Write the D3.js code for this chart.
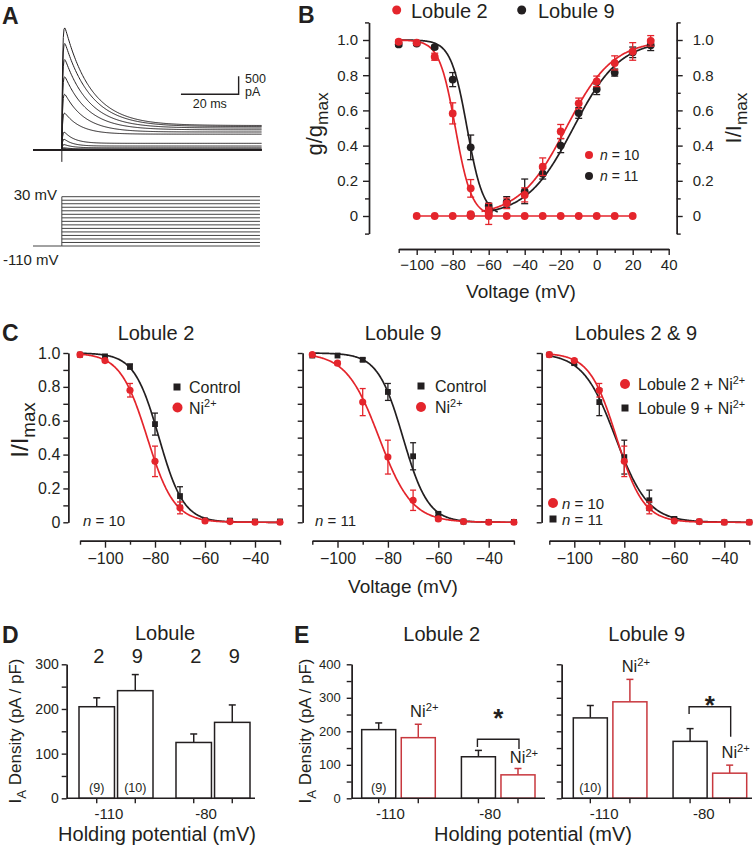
<!DOCTYPE html>
<html><head><meta charset="utf-8">
<script src="https://cdn.jsdelivr.net/npm/d3@7"></script>
<style>
body{margin:0;background:#fff;}
svg{display:block;}
</style></head><body>
<svg id="fig" width="753" height="853"></svg>
<script>
// ================= DATA =================
// Panel A : current traces (peak / steady state pA, decay tau ms) and voltage steps
const aLevels  = [30,20,10,0,-10,-20,-30,-40,-50,-60,-70,-80,-90,-100,-110];
const aPeak    = [3780,3290,2800,2270,1740,1160,600,370,185,75,30,10,0,0,0];
const aSteady  = [680,650,610,560,500,440,185,110,60,25,10,0,0,0,0];
const aTau     = [9,9,8.5,8,7,5.5,3.5,3,3,3,3,3,3,3,3];
const aTransient = -330;      // pA
const aScaleBar  = [20, 500]; // ms, pA

// Panel B : inactivation (left) and activation (right)
const bInactV    = [-110,-100,-90,-80,-70,-60];
const bInact2    = [0.99,0.985,0.905,0.583,0.157,0.012];
const bInact2Err = [0.01,0.01,0.02,0.06,0.05,0.06];
const bInact9    = [0.975,0.98,0.96,0.775,0.39,0.057];
const bInact9Err = [0.01,0.01,0.01,0.04,0.07,0.015];
const bActV      = [-70,-60,-50,-40,-30,-20,-10,0,10,20,30];
const bAct2      = [0.01,0.03,0.072,0.12,0.28,0.48,0.64,0.765,0.87,0.935,0.995];
const bAct2Err   = [0.01,0.02,0.03,0.04,0.05,0.04,0.03,0.03,0.04,0.05,0.03];
const bAct9      = [0.005,0.03,0.08,0.14,0.24,0.40,0.585,0.72,0.815,0.93,0.97];
const bAct9Err   = [0.01,0.01,0.03,0.07,0.03,0.04,0.03,0.03,0.02,0.03,0.03];
const bZeroV     = [-100,-90,-80,-70,-60,-50,-40,-30,-20,-10,0,10,20];
const bZero      = [0,0,0,0,0,0,0,0,0,0,0,0,0];
// Boltzmann fits [V1/2, k]
const bFitInact2 = [-78.5, 4.5];
const bFitInact9 = [-72, 4.5];
const bFitAct2   = [-17, 13];
const bFitAct9   = [-13, 13];

// Panel C : steady-state inactivation, control vs Ni2+
const cV         = [-110,-100,-90,-80,-70,-60,-50,-40,-30];
const c2Ctrl     = [0.99,0.98,0.92,0.58,0.155,0.012,0.01,0.005,0.005];
const c2CtrlErr  = [0.005,0.005,0.015,0.065,0.055,0.005,0.005,0,0];
const c2Ni       = [0.99,0.955,0.78,0.36,0.085,0.008,0.004,0.0,0.0];
const c2NiErr    = [0.005,0.01,0.04,0.09,0.035,0.005,0,0,0];
const c9Ctrl     = [0.985,0.985,0.96,0.77,0.39,0.05,0.004,0.002,0.002];
const c9CtrlErr  = [0.005,0.005,0.01,0.05,0.08,0.01,0,0,0];
const c9Ni       = [0.99,0.94,0.71,0.385,0.13,0.02,0.004,0.0,0.0];
const c9NiErr    = [0.005,0.01,0.08,0.10,0.06,0.01,0,0,0];
const c2CtrlFit  = [-78.4, 4.95];
const c2NiFit    = [-83.1, 5.4];
const c9CtrlFit  = [-74, 5];
const c9NiFit    = [-83.5, 6.5];

// Panel D : I_A density by lobule and holding potential
const dHolding = ["-110","-80"];
const dLobules = ["2","9"];
const dMean2 = [205,125], dErr2 = [20,19];
const dMean9 = [241,170], dErr9 = [36,39];
const dN     = ["(9)","(10)"];

// Panel E : control vs Ni2+
const eCond = ["Control","Ni"];
const e2Ctrl = [205,124], e2CtrlErr = [20,19];
const e2Ni   = [181,70],  e2NiErr   = [40,19];
const e9Ctrl = [240,170], e9CtrlErr = [37,38];
const e9Ni   = [288,75],  e9NiErr   = [67,24];

// ================= DRAWING =================
const FONT = "'Liberation Sans', Arial, Helvetica, sans-serif";
const RED = "#e4252c", BLK = "#231f20", BARRED = "#c8383e";
const svg = d3.select("#fig").attr("font-family", FONT);
svg.append("rect").attr("width",753).attr("height",853).attr("fill","#fff");

function rich(g, x, y, parts, size, anchor, opts={}) {
  const t = g.append("text").attr("x",x).attr("y",y).attr("font-size",size)
    .attr("text-anchor",anchor||"start").attr("fill",BLK);
  if (opts.bold) t.attr("font-weight","bold");
  if (opts.transform) t.attr("transform",opts.transform);
  let shift = 0;
  parts.forEach(p => {
    const s = typeof p === "string" ? p : p[0];
    const type = typeof p === "string" ? "" : p[1];
    const ts = t.append("tspan").text(s);
    let target = 0;
    if (type === "sub") { target = size*0.28; ts.attr("font-size", size*0.78); }
    else if (type === "sup") { target = -size*0.38; ts.attr("font-size", size*0.68); }
    else if (type === "ital") { ts.attr("font-style","italic"); }
    if (target - shift !== 0) ts.attr("dy", target - shift);
    shift = target;
  });
  return t;
}
function styleAxis(g, fs) {
  g.attr("font-family", FONT).attr("font-size", fs);
  g.selectAll("path,line").attr("stroke", BLK).attr("stroke-width", 1.4);
  g.selectAll("text").attr("fill", BLK);
  return g;
}
const boltzDown = (p) => v => 1/(1+Math.exp((v-p[0])/p[1]));
const boltzUp   = (p) => v => 1/(1+Math.exp((p[0]-v)/p[1]));

function drawPoints(g, x, y, V, vals, errs, color, shape, size, cap) {
  V.forEach((v,i) => {
    const e = errs ? errs[i] : 0;
    if (e > 0.008) {
      const cx = x(v), y1 = y(vals[i]-e), y2 = y(vals[i]+e);
      g.append("line").attr("x1",cx).attr("x2",cx).attr("y1",y1).attr("y2",y2).attr("stroke",color).attr("stroke-width",1.3);
      [y1,y2].forEach(yy => g.append("line").attr("x1",cx-cap).attr("x2",cx+cap).attr("y1",yy).attr("y2",yy).attr("stroke",color).attr("stroke-width",1.3));
    }
  });
  g.selectAll(null).data(V.map((v,i)=>[v,vals[i]])).join("path")
    .attr("transform", d => `translate(${x(d[0])},${y(d[1])})`)
    .attr("d", d3.symbol(shape, size)).attr("fill", color);
}
function drawCurve(g, x, y, f, v0, v1, color) {
  const pts = d3.range(v0, v1+0.001, 0.25).map(v => [v, f(v)]);
  g.append("path").attr("d", d3.line().x(d=>x(d[0])).y(d=>y(d[1]))(pts))
    .attr("fill","none").attr("stroke",color).attr("stroke-width",1.7);
}

// ---------- Panel A ----------
{
  const g = svg.append("g");
  rich(g, 2, 24, ["A"], 23, "start", {bold:true});
  const tA = d3.scaleLinear().domain([-10, 69.3]).range([33, 261.7]);
  const iA = d3.scaleLinear().domain([0, 4000]).range([150, 6]);
  const ts = d3.range(-10, 69.3, 0.25);
  aPeak.forEach((pk,i) => {
    const ss = aSteady[i], tau = aTau[i];
    const pts = ts.map(t => t < 0 ? [t,0] : [t, (ss + (pk-ss)*Math.exp(-t/tau)) * (1-Math.exp(-t/0.25))]);
    g.append("path").attr("d", d3.line().x(d=>tA(d[0])).y(d=>iA(d[1]))(pts))
      .attr("fill","none").attr("stroke",BLK).attr("stroke-width", pk < 50 ? 1.6 : 1);
  });
  g.append("line").attr("x1",tA(0)).attr("x2",tA(0)).attr("y1",iA(0)).attr("y2",iA(aTransient)).attr("stroke",BLK).attr("stroke-width",1);
  // scale bar
  const sbT0 = 41.3, sbI0 = 1547;
  g.append("path").attr("d", `M${tA(sbT0)},${iA(sbI0)}H${tA(sbT0+aScaleBar[0])}V${iA(sbI0+aScaleBar[1])}`)
    .attr("fill","none").attr("stroke",BLK).attr("stroke-width",1.4);
  rich(g, tA(sbT0+aScaleBar[0])/2 + tA(sbT0)/2, 108, ["20 ms"], 12.5, "middle");
  rich(g, 245, 83, ["500"], 12.5, "start");
  rich(g, 245, 96, ["pA"], 12.5, "start");
  // voltage protocol
  const vA = d3.scaleLinear().domain([-110, 30]).range([246, 196.7]);
  g.append("line").attr("x1",tA(-10)).attr("x2",tA(0)).attr("y1",vA(-110)).attr("y2",vA(-110)).attr("stroke","#444").attr("stroke-width",1);
  g.append("line").attr("x1",tA(0)).attr("x2",tA(0)).attr("y1",vA(-110)).attr("y2",vA(30)).attr("stroke","#444").attr("stroke-width",1);
  aLevels.forEach(v => g.append("line").attr("x1",tA(0)).attr("x2",tA(68.7)).attr("y1",vA(v)).attr("y2",vA(v)).attr("stroke","#444").attr("stroke-width",1));
  rich(g, 57, 200, ["30 mV"], 15, "end");
  rich(g, 3, 265, ["-110 mV"], 15, "start");
}

// ---------- Panel B ----------
{
  const g = svg.append("g");
  rich(g, 298, 23, ["B"], 23, "start", {bold:true});
  const x = d3.scaleLinear().domain([-110, 40]).range([398.7, 668.7]);
  const y = d3.scaleLinear().domain([-0.1, 1.1]).range([233.6, 22.4]);
  const fmt = d => d === 0 ? "0" : d.toFixed(1);
  const maj = [0,0.2,0.4,0.6,0.8,1.0], mnr = [-0.1,0.1,0.3,0.5,0.7,0.9,1.1];
  styleAxis(g.append("g").attr("transform","translate(369,0)").call(d3.axisLeft(y).tickValues(maj).tickSize(6).tickPadding(5).tickSizeOuter(0).tickFormat(fmt)), 15);
  styleAxis(g.append("g").attr("transform","translate(369,0)").call(d3.axisLeft(y).tickValues(mnr).tickSize(4).tickSizeOuter(0).tickFormat("")), 15);
  styleAxis(g.append("g").attr("transform","translate(676.7,0)").call(d3.axisRight(y).tickValues(maj).tickSize(6).tickPadding(10).tickSizeOuter(0).tickFormat(fmt)), 15);
  styleAxis(g.append("g").attr("transform","translate(676.7,0)").call(d3.axisRight(y).tickValues(mnr).tickSize(4).tickSizeOuter(0).tickFormat("")), 15);
  styleAxis(g.append("g").attr("transform","translate(0,249)").call(d3.axisBottom(x).tickValues([-100,-80,-60,-40,-20,0,20,40]).tickSize(6).tickPadding(4).tickSizeOuter(0)), 15);
  styleAxis(g.append("g").attr("transform","translate(0,249)").call(d3.axisBottom(x).tickValues([-110,-90,-70,-50,-30,-10,10,30]).tickSize(4).tickSizeOuter(0).tickFormat("")), 15);
  rich(g, 521, 298, ["Voltage (mV)"], 19, "middle");
  rich(g, 0, 0, ["g/g", ["max","sub"]], 22, "middle", {transform:"translate(322,124) rotate(-90)"});
  rich(g, 0, 0, ["I/I", ["max","sub"]], 22, "middle", {transform:"translate(741,118) rotate(-90)"});
  // curves
  drawCurve(g, x, y, boltzDown(bFitInact9), -110, -55, BLK);
  drawCurve(g, x, y, boltzUp(bFitAct9), -62, 30, BLK);
  drawCurve(g, x, y, boltzDown(bFitInact2), -110, -58, RED);
  drawCurve(g, x, y, boltzUp(bFitAct2), -64, 30, RED);
  g.append("path").attr("d", d3.line().x((d,i)=>x(bZeroV[i])).y(d=>y(d))(bZero)).attr("fill","none").attr("stroke",RED).attr("stroke-width",1.7);
  drawPoints(g, x, y, bInactV, bInact9, bInact9Err, BLK, d3.symbolCircle, 48, 3.5);
  drawPoints(g, x, y, bActV, bAct9, bAct9Err, BLK, d3.symbolCircle, 48, 3.5);
  drawPoints(g, x, y, bInactV, bInact2, bInact2Err, RED, d3.symbolCircle, 48, 3.5);
  drawPoints(g, x, y, bActV, bAct2, bAct2Err, RED, d3.symbolCircle, 48, 3.5);
  drawPoints(g, x, y, bZeroV, bZero, null, RED, d3.symbolCircle, 48, 3.5);
  // legends
  g.append("circle").attr("cx",396.7).attr("cy",10).attr("r",4.5).attr("fill",RED);
  rich(g, 411, 17.5, ["Lobule 2"], 20);
  g.append("circle").attr("cx",521.7).attr("cy",10).attr("r",4.5).attr("fill",BLK);
  rich(g, 538, 17.5, ["Lobule 9"], 20);
  g.append("circle").attr("cx",589).attr("cy",155).attr("r",4).attr("fill",RED);
  rich(g, 600, 160, [["n","ital"]," = 10"], 14);
  g.append("circle").attr("cx",589).attr("cy",176).attr("r",4).attr("fill",BLK);
  rich(g, 600, 181, [["n","ital"]," = 11"], 14);
}

// ---------- Panel C ----------
function drawC(cfg) {
  const g = svg.append("g");
  const x = d3.scaleLinear().domain([-110, -30]).range(cfg.xr);
  const y = d3.scaleLinear().domain([0, 1]).range([522.3, 353]);
  const fmt = d => d === 0 ? "0" : d.toFixed(1);
  styleAxis(g.append("g").attr("transform",`translate(${cfg.ax},0)`).call(d3.axisLeft(y).tickValues([0,0.2,0.4,0.6,0.8,1.0]).tickSize(5).tickPadding(3).tickSizeOuter(0).tickFormat(cfg.labels ? fmt : "")), 16);
  styleAxis(g.append("g").attr("transform",`translate(${cfg.ax},0)`).call(d3.axisLeft(y).tickValues([0.1,0.3,0.5,0.7,0.9]).tickSize(5).tickSizeOuter(0).tickFormat("")), 16);
  styleAxis(g.append("g").attr("transform","translate(0,540.7)").call(d3.axisBottom(x).tickValues([-100,-80,-60,-40]).tickSize(7).tickPadding(5).tickSizeOuter(0)), 16);
  styleAxis(g.append("g").attr("transform","translate(0,540.7)").call(d3.axisBottom(x).tickValues([-110,-90,-70,-50,-30]).tickSize(4).tickSizeOuter(0).tickFormat("")), 16);
  rich(g, cfg.titleX, 340, [cfg.title], 20, "middle");
  cfg.series.forEach(s => drawCurve(g, x, y, boltzDown(s.fit), -110, -30, s.color));
  cfg.series.forEach(s => drawPoints(g, x, y, cV, s.vals, s.errs, s.color, s.shape, s.shape === d3.symbolSquare ? 34 : 40, 3));
  return g;
}
{
  const sq = d3.symbolSquare, ci = d3.symbolCircle;
  rich(svg, 2, 341, ["C"], 23, "start", {bold:true});
  const g1 = drawC({xr:[80,280], ax:68.3, labels:true, title:"Lobule 2", titleX:156,
    series:[{vals:c2Ctrl, errs:c2CtrlErr, fit:c2CtrlFit, color:BLK, shape:sq},
            {vals:c2Ni, errs:c2NiErr, fit:c2NiFit, color:RED, shape:ci}]});
  g1.append("rect").attr("x",173.5).attr("y",383.5).attr("width",7).attr("height",7).attr("fill",BLK);
  rich(g1, 189, 392.5, ["Control"], 16);
  g1.append("circle").attr("cx",177.5).attr("cy",407.5).attr("r",5).attr("fill",RED);
  rich(g1, 189, 413.5, ["Ni", ["2+","sup"]], 16);
  rich(g1, 83, 526, [["n","ital"], " = 10"], 15);

  const g2 = drawC({xr:[312.3,513.9], ax:302.7, labels:false, title:"Lobule 9", titleX:403,
    series:[{vals:c9Ctrl, errs:c9CtrlErr, fit:c9CtrlFit, color:BLK, shape:sq},
            {vals:c9Ni, errs:c9NiErr, fit:c9NiFit, color:RED, shape:ci}]});
  g2.append("rect").attr("x",417.5).attr("y",382.5).attr("width",7).attr("height",7).attr("fill",BLK);
  rich(g2, 435, 392, ["Control"], 16);
  g2.append("circle").attr("cx",421).attr("cy",407).attr("r",5).attr("fill",RED);
  rich(g2, 435, 413, ["Ni", ["2+","sup"]], 16);
  rich(g2, 315, 526, [["n","ital"], " = 11"], 15);

  const g3 = drawC({xr:[549.3,749.3], ax:541.7, labels:false, title:"Lobules 2 & 9", titleX:636,
    series:[{vals:c9Ni, errs:c9NiErr, fit:c9NiFit, color:BLK, shape:sq},
            {vals:c2Ni, errs:c2NiErr, fit:c2NiFit, color:RED, shape:ci}]});
  g3.append("circle").attr("cx",625).attr("cy",384).attr("r",5).attr("fill",RED);
  rich(g3, 638, 390, ["Lobule 2 + Ni", ["2+","sup"]], 16);
  g3.append("rect").attr("x",621.5).attr("y",404.5).attr("width",7).attr("height",7).attr("fill",BLK);
  rich(g3, 638, 414, ["Lobule 9 + Ni", ["2+","sup"]], 16);
  g3.append("circle").attr("cx",553).attr("cy",503).attr("r",5).attr("fill",RED);
  rich(g3, 562, 509, [["n","ital"], " = 10"], 15);
  g3.append("rect").attr("x",549.5).attr("y",515.5).attr("width",7).attr("height",7).attr("fill",BLK);
  rich(g3, 562, 525, [["n","ital"], " = 11"], 15);

  rich(svg, 403, 593, ["Voltage (mV)"], 19, "middle");
  rich(svg, 0, 0, ["I/I", ["max","sub"]], 24, "middle", {transform:"translate(28,430) rotate(-90)"});
}

// ---------- Panels D & E ----------
function drawBars(cfg) {
  const g = svg.append("g");
  const y = d3.scaleLinear().domain([0, cfg.ymax]).range([798.3, 664.3]);
  const maj = d3.range(0, cfg.ymax+1, 100), mnr = d3.range(50, cfg.ymax, 100);
  styleAxis(g.append("g").attr("transform",`translate(${cfg.ax},0)`).call(d3.axisLeft(y).tickValues(maj).tickSize(5).tickPadding(cfg.pad).tickSizeOuter(0).tickFormat(cfg.labels ? d3.format("d") : "")), cfg.yfs);
  styleAxis(g.append("g").attr("transform",`translate(${cfg.ax},0)`).call(d3.axisLeft(y).tickValues(mnr).tickSize(5).tickSizeOuter(0).tickFormat("")), cfg.yfs);
  const xg = d3.scaleBand().domain(dHolding).range(cfg.br).paddingInner(cfg.pg).paddingOuter(0);
  const xi = d3.scaleBand().domain(cfg.keys).range([0, xg.bandwidth()]).paddingInner(cfg.pi).paddingOuter(0);
  const centers = [];
  dHolding.forEach((h, gi) => {
    cfg.keys.forEach((k, ki) => {
      const s = cfg.series[ki];
      const bx = xg(h) + xi(k), bw = xi.bandwidth(), v = s.vals[gi], e = s.errs[gi];
      const cx = bx + bw/2; centers.push(cx);
      g.append("line").attr("x1",cx).attr("x2",cx).attr("y1",y(v)).attr("y2",y(v+e)).attr("stroke",s.color).attr("stroke-width",1.5);
      g.append("line").attr("x1",cx-3.5).attr("x2",cx+3.5).attr("y1",y(v+e)).attr("y2",y(v+e)).attr("stroke",s.color).attr("stroke-width",1.5);
      g.append("rect").attr("x",bx).attr("y",y(v)).attr("width",bw).attr("height",y(0)-y(v))
        .attr("fill","#fff").attr("stroke",s.color).attr("stroke-width",1.5);
      g.append("line").attr("x1",cx).attr("x2",cx).attr("y1",y(0)).attr("y2",y(0)+5).attr("stroke",BLK).attr("stroke-width",1.4);
    });
    rich(g, xg(h) + xg.bandwidth()/2 + cfg.lblDx, 819, [h], 15, "middle");
  });
  g.append("line").attr("x1",cfg.ax).attr("x2",cfg.axEnd).attr("y1",y(0)).attr("y2",y(0)).attr("stroke",BLK).attr("stroke-width",1.6);
  return {g, y, centers};
}
{
  rich(svg, 2, 643, ["D"], 23, "start", {bold:true});
  const D = drawBars({ymax:300, ax:66.7, axEnd:255, br:[79,250], pg:0.237, pi:0.08, labels:true, pad:3, yfs:14, lblDx:-7,
    keys:dLobules, series:[{vals:dMean2, errs:dErr2, color:BLK},{vals:dMean9, errs:dErr9, color:BLK}]});
  rich(D.g, 165, 640, ["Lobule"], 20, "middle");
  D.centers.forEach((c,i) => rich(D.g, c+2, 663, [dLobules[i%2]], 20, "middle"));
  rich(D.g, D.centers[0], 792, [dN[0]], 12.5, "middle");
  rich(D.g, D.centers[1], 792, [dN[1]], 12.5, "middle");
  rich(svg, 157, 841, ["Holding potential (mV)"], 20, "middle");
  rich(svg, 0, 0, ["I", ["A","sub"], " Density (pA / pF)"], 17, "middle", {transform:"translate(21,731) rotate(-90)"});

  rich(svg, 294, 643, ["E"], 23, "start", {bold:true});
  const E2 = drawBars({ymax:400, ax:351.7, axEnd:545, br:[361.7,535], pg:0.262, pi:0.14, labels:true, pad:6, yfs:13, lblDx:-8,
    keys:eCond, series:[{vals:e2Ctrl, errs:e2CtrlErr, color:BLK},{vals:e2Ni, errs:e2NiErr, color:BARRED}]});
  rich(E2.g, 441.7, 641, ["Lobule 2"], 20, "middle");
  rich(E2.g, E2.centers[0], 792, [dN[0]], 12.5, "middle");
  rich(E2.g, E2.centers[1]+6, 717, ["Ni", ["2+","sup"]], 16.5, "middle");
  rich(E2.g, E2.centers[3]+6, 763, ["Ni", ["2+","sup"]], 16.5, "middle");
  E2.g.append("path").attr("d", `M${E2.centers[2]-1},747V739.3H${E2.centers[3]+1}V749`).attr("fill","none").attr("stroke",BLK).attr("stroke-width",1.4);
  rich(E2.g, (E2.centers[2]+E2.centers[3])/2, 727, ["*"], 26, "middle", {bold:true});
  rich(svg, 0, 0, ["I", ["A","sub"], " Density (pA / pF)"], 17, "middle", {transform:"translate(311,731) rotate(-90)"});

  const E9 = drawBars({ymax:400, ax:561.7, axEnd:752, br:[573.3,746.7], pg:0.262, pi:0.14, labels:false, pad:6, yfs:13, lblDx:-6,
    keys:eCond, series:[{vals:e9Ctrl, errs:e9CtrlErr, color:BLK},{vals:e9Ni, errs:e9NiErr, color:BARRED}]});
  rich(E9.g, 646.7, 641, ["Lobule 9"], 20, "middle");
  rich(E9.g, E9.centers[0], 792, [dN[1]], 12.5, "middle");
  rich(E9.g, E9.centers[1]+6, 672, ["Ni", ["2+","sup"]], 16.5, "middle");
  rich(E9.g, E9.centers[3]+6, 758, ["Ni", ["2+","sup"]], 16.5, "middle");
  E9.g.append("path").attr("d", `M${E9.centers[2]-1},714V706.7H${E9.centers[3]+1}V736.7`).attr("fill","none").attr("stroke",BLK).attr("stroke-width",1.4);
  rich(E9.g, (E9.centers[2]+E9.centers[3])/2, 714, ["*"], 26, "middle", {bold:true});
  rich(svg, 533, 841, ["Holding potential (mV)"], 20, "middle");
}
</script>
</body></html>
